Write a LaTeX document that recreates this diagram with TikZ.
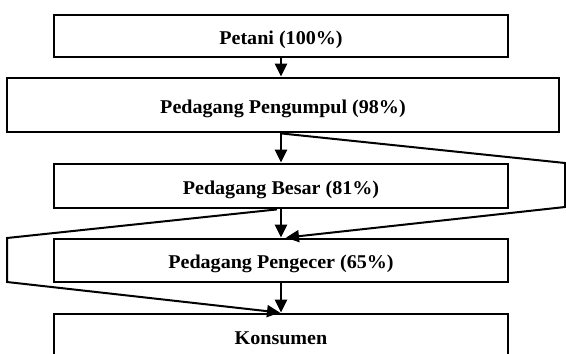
\documentclass[tikz,border=0pt]{standalone}
\usepackage{fontspec}
\setmainfont{Liberation Serif}[FakeStretch=1.03]
\usetikzlibrary{arrows.meta}
\begin{document}
\begin{tikzpicture}[x=1pt,y=-1pt,
  box/.style={draw=black,line width=2.8pt,rectangle,inner sep=0pt,
    font=\fontsize{19.5}{21}\selectfont\bfseries,
    text height=16pt,text depth=0pt},
  narrow/.style={box,minimum width=454pt},
  arr/.style={line width=2.8pt,-{Triangle[length=13pt,width=12pt]}},
  link/.style={line width=2pt,line join=miter,-{Triangle[length=13pt,width=12pt]}}
]
\useasboundingbox (0,0) rectangle (566,354);
\node[narrow,minimum height=42pt] (petani) at (281,36) {Petani (100\%)};
\node[box,minimum width=552pt,minimum height=54pt] (pengumpul) at (283,105) {Pedagang Pengumpul (98\%)};
\node[narrow,minimum height=44pt] (besar) at (281,186) {Pedagang Besar (81\%)};
\node[narrow,minimum height=43pt] (pengecer) at (281,260.5) {Pedagang Pengecer (65\%)};
\node[narrow,minimum height=44pt] (konsumen) at (281,336) {Konsumen};
\coordinate (r1) at (565,163);
\coordinate (r2) at (565,207);
\coordinate (l1) at (7,238);
\coordinate (l2) at (7,282);
\draw[arr] (petani.south) -- (pengumpul.north -| petani.south);
\draw[arr] (pengumpul.south -| petani.south) -- (besar.north);
\draw[arr] (besar.south) -- (pengecer.north);
\draw[arr] (pengecer.south) -- (konsumen.north);
\draw[link] (pengumpul.south -| petani.south) -- (r1) -- (r2) -- ([xshift=5pt]pengecer.north);
\draw[link] ([xshift=-4pt]besar.south) -- (l1) -- (l2) -- ([xshift=-1pt]konsumen.north);
\end{tikzpicture}
\end{document}
